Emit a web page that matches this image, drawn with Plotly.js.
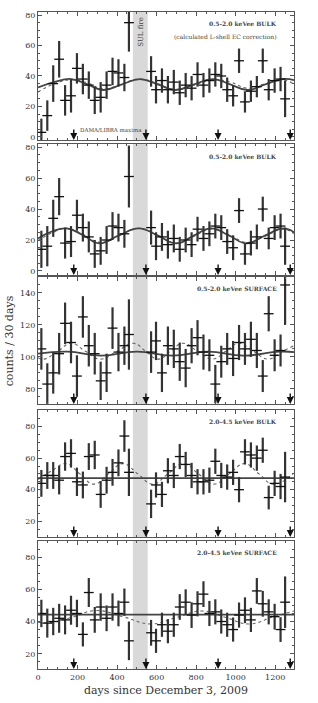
<!DOCTYPE html>
<html>
<head>
<meta charset="utf-8">
<script src="https://cdn.plot.ly/plotly-3.0.1.min.js"></script>
<style>
html,body{margin:0;padding:0;background:#fff;}
#chart{width:318px;height:703px;}
</style>
</head>
<body>
<div id="chart"></div>
<script>
// ---- data ----
const days = [17,47,77,107,137,167,197,227,257,287,317,347,377,407,437,460,
  572,597,627,657,687,717,747,777,807,837,867,897,927,957,987,1017,1047,1077,1107,1137,1167,1197,1227,1250];

const vals1 = [3,14,35,51,24,27,45,38,34,24,26,34,43,42,39,75,
  43,31,37,31,36,29,34,32,41,34,37,41,40,31,27,50,23,30,33,50,31,37,38,25];
const err1 = [9,10,12,12,10,11,10,10,9,9,10,9,9,9,9,19,
  10,9,8,9,8,8,8,8,8,8,8,8,8,8,7,8,7,7,7,8,7,8,8,12];

const vals2 = [14,16,34,48,18,19,36,28,22,11,13,20,29,28,24,61,
  28,16,22,17,21,14,20,17,27,21,24,29,28,19,15,39,11,18,22,40,21,28,29,16];
const err2 = [12,13,12,12,10,10,10,9,10,9,9,9,9,9,9,20,
  11,9,9,9,9,8,8,8,8,8,8,8,8,8,8,8,7,8,8,8,7,8,8,12];

const vals3 = [105,83,90,102,121,109,88,125,107,102,85,90,118,103,107,114,
  103,110,90,107,105,97,93,107,112,103,101,83,97,105,99,109,105,111,104,88,127,101,104,145];
const err3 = [13,13,13,13,13,13,13,13,13,13,12,12,13,12,12,22,
  13,12,12,12,12,12,12,11,11,11,10,12,10,10,11,11,10,11,11,10,11,10,10,25];

const vals4 = [44,49,49,46,61,63,45,43,61,62,37,46,51,57,74,51,
  31,43,37,52,49,61,56,49,45,45,46,58,49,48,51,40,64,62,60,65,35,44,42,48];
const err4 = [8.5,8.5,8.5,9,9,9,9,8.5,8.5,9,8.5,8.5,8.5,8.5,10,15,
  9,8,8,8,8,8,8,8,8,8,8,8,8,8,8,8,8,8,8,8,7.5,8,8,16];

const vals5 = [45,39,40,42,41,47,45,32,58,41,49,42,49,45,52,28,
  33,28,38,34,38,49,52,44,51,57,45,46,40,38,35,44,47,41,59,51,46,43,35,52];
const err5 = [8.5,9,8.5,9,9,9,8.5,7.5,9,8,8.5,8,8.5,8,8.5,12,
  8,7.5,7.5,7.5,7.5,8,8,8,7.8,8,7.8,7.8,7.5,7.5,7.5,7.8,8,7.5,8,8,7.8,8,7.7,16];

// fit curves
const fitX = [0,85,168,250,330,425,515,605,695,790,885,972,1060,1150,1240,1295];
const solid1 = [32.5,36.2,38,34.5,30.8,34.5,38,34.5,30.8,34.5,38,34.5,30.8,34.5,38,37.2];
const dash1  = [29.5,35,37.5,35.5,31.5,35,38,35,31,34,37.5,36,32,35,37.5,34.5];
const fit2X = [0,70,145,230,310,410,510,605,700,790,875,965,1055,1150,1240,1295];
const solid2 = [21,25.5,27.5,23,17.8,23,27.5,23,17.8,23,27.5,23,17.8,23,27.5,25];
const dash2  = [19.5,24.5,27.5,23.5,18.5,23,27.5,23,18,22.5,27,23.5,18.5,22.5,27,24];
const fit3X = [0,150,320,500,680,860,1040,1220,1295];
const solid3 = [102,103.3,100.8,103.3,100.8,103.3,100.8,103.3,103];
const dash3X = [0,30,100,168,240,315,400,483,545,608,670,733,808,883,950,1015,1090,1165,1230,1295];
const dash3  = [99.5,98.6,103.5,108.5,103.5,98.6,103.5,108.5,103.5,98.6,103.5,108.5,103.5,98.6,103.5,108.5,103.5,98.6,103,107];
const flatX = [0,1295];
const solid4 = [47.3,47.3];
const dash4X = [0,70,142,212,283,356,430,505,580,657,735,812,890,967,1045,1118,1190,1295];
const dash4  = [46.5,52,56.5,50,43.5,50,56.5,50,43.5,50,56.5,50,43.5,50,56.5,50,43.5,50.5];
const solid5 = [44.3,44.3];
const dash5X = [0,60,170,290,430,570,700,830,950,1070,1190,1295];
const dash5  = [39.5,39.3,42.5,46.8,43,38.5,42.5,46.5,42.5,38.5,43,46.5];

const damaMaxima = [181,546,911,1276];
const fireStart = 480, fireEnd = 555;
const panelLabels = ['0.5-2.0 keVee BULK','0.5-2.0 keVee BULK','0.5-2.0 keVee SURFACE','2.0-4.5 keVee BULK','2.0-4.5 keVee SURFACE'];
const yTickVals = [[0,20,40,60,80],[0,20,40,60,80],[80,100,120,140],[20,40,60,80],[20,40,60,80]];
const yRanges = [[-2,82],[-2.6,82],[70.5,150],[10,90.5],[10.5,90]];
const xTicks = [0,200,400,600,800,1000,1200];

// ---- build ----
const panels = [
  {v:vals1,e:err1,sx:fitX,s:solid1,dx:fitX,d:dash1},
  {v:vals2,e:err2,sx:fit2X,s:solid2,dx:fit2X,d:dash2},
  {v:vals3,e:err3,sx:fit3X,s:solid3,dx:dash3X,d:dash3},
  {v:vals4,e:err4,sx:flatX,s:solid4,dx:dash4X,d:dash4},
  {v:vals5,e:err5,sx:flatX,s:solid5,dx:dash5X,d:dash5}
];
const domains = [[0.8052,1],[0.5997,0.7991],[0.4033,0.5967],[0.2009,0.3942],[0,0.1948]];
const serif = 'DejaVu Serif, serif';
const frame = '#555';

const traces = [];
const layout = {
  width:318, height:703,
  margin:{l:38,r:24,t:12,b:34},
  paper_bgcolor:'#fff', plot_bgcolor:'#fff',
  showlegend:false,
  font:{family:serif,size:8,color:'#333'},
  shapes:[], annotations:[]
};

panels.forEach((p,i)=>{
  const n = i+1;
  const xa = 'x'+(n===1?'':n), ya = 'y'+(n===1?'':n);
  const xk = 'xaxis'+(n===1?'':n), yk = 'yaxis'+(n===1?'':n);
  traces.push({x:p.dx,y:p.d,xaxis:xa,yaxis:ya,mode:'lines',type:'scatter',
    line:{color:'#666',width:1.1,dash:'dot',shape:'spline',smoothing:1.3},hoverinfo:'skip'});
  traces.push({x:p.sx,y:p.s,xaxis:xa,yaxis:ya,mode:'lines',type:'scatter',
    line:{color:'#444',width:1.8,shape:'spline',smoothing:1.3},hoverinfo:'skip'});
  traces.push({x:days,y:p.v,xaxis:xa,yaxis:ya,mode:'markers',type:'scatter',
    marker:{symbol:'line-ew',size:7,line:{color:'#111',width:1.3}},
    error_y:{type:'data',array:p.e,visible:true,color:'#333',thickness:2.2,width:0}});
  layout[xk] = {
    domain:[0,1], anchor:ya, range:[0,1295], matches: n===1?undefined:'x',
    showticklabels: n===5, tickvals:xTicks, ticks:'inside', ticklen:4, tickcolor:frame,
    minor:{dtick:50,ticklen:2,ticks:'inside',tickcolor:frame},
    showline:true, linecolor:frame, linewidth:1, mirror:'allticks',
    showgrid:false, zeroline:false, tickfont:{family:serif,size:8,color:'#333'}
  };
  layout[yk] = {
    domain:domains[i], anchor:xa, range:yRanges[i],
    tickvals:yTickVals[i], ticks:'inside', ticklen:4, tickcolor:frame,
    minor:{dtick:5,ticklen:2,ticks:'inside',tickcolor:frame},
    showline:true, linecolor:frame, linewidth:1, mirror:'allticks',
    showgrid:false, zeroline:false, tickfont:{family:serif,size:8,color:'#333'}
  };
  layout.shapes.push({type:'rect',xref:xa,yref:ya+' domain',x0:fireStart,x1:fireEnd,y0:0,y1:1,
    fillcolor:'#d9d9d9',line:{width:0},layer:'below'});
  layout.annotations.push({xref:'x domain'.replace('x',xa),yref:ya+' domain',x:0.94,y:0.95,
    xanchor:'right',yanchor:'top',showarrow:false,text:'<b>'+panelLabels[i]+'</b>',
    font:{family:serif,size:6,color:'#444'}});
  damaMaxima.forEach(d=>{
    layout.annotations.push({xref:xa,yref:ya+' domain',x:d,y:0,ax:0,ay:-12,
      showarrow:true,arrowhead:2,arrowsize:1,arrowwidth:1.4,arrowcolor:'#111',text:''});
  });
});

layout.annotations.push({xref:'x domain',yref:'y domain',x:0.94,y:0.85,xanchor:'right',yanchor:'top',
  showarrow:false,text:'(calculated L-shell EC correction)',font:{family:serif,size:6,color:'#444'}});
layout.annotations.push({xref:'x',yref:'y domain',x:(fireStart+fireEnd)/2,y:0.98,xanchor:'center',yanchor:'top',
  showarrow:false,text:'SUL fire',textangle:-90,font:{family:serif,size:7,color:'#444'}});
layout.annotations.push({xref:'x',yref:'y domain',x:200,y:0.04,xanchor:'left',yanchor:'bottom',
  showarrow:false,text:'DAMA/LIBRA maxima',font:{family:serif,size:5.5,color:'#444'}});
layout.annotations.push({xref:'paper',yref:'paper',x:-0.11,y:0.5,xanchor:'center',yanchor:'middle',
  showarrow:false,text:'counts / 30 days',textangle:-90,font:{family:serif,size:11,color:'#333'}});
layout.annotations.push({xref:'paper',yref:'paper',x:0.5,y:-0.032,xanchor:'center',yanchor:'middle',
  showarrow:false,text:'days since December 3, 2009',font:{family:serif,size:11,color:'#333'}});

Plotly.newPlot('chart',traces,layout,{displayModeBar:false,staticPlot:true});
</script>
</body>
</html>
